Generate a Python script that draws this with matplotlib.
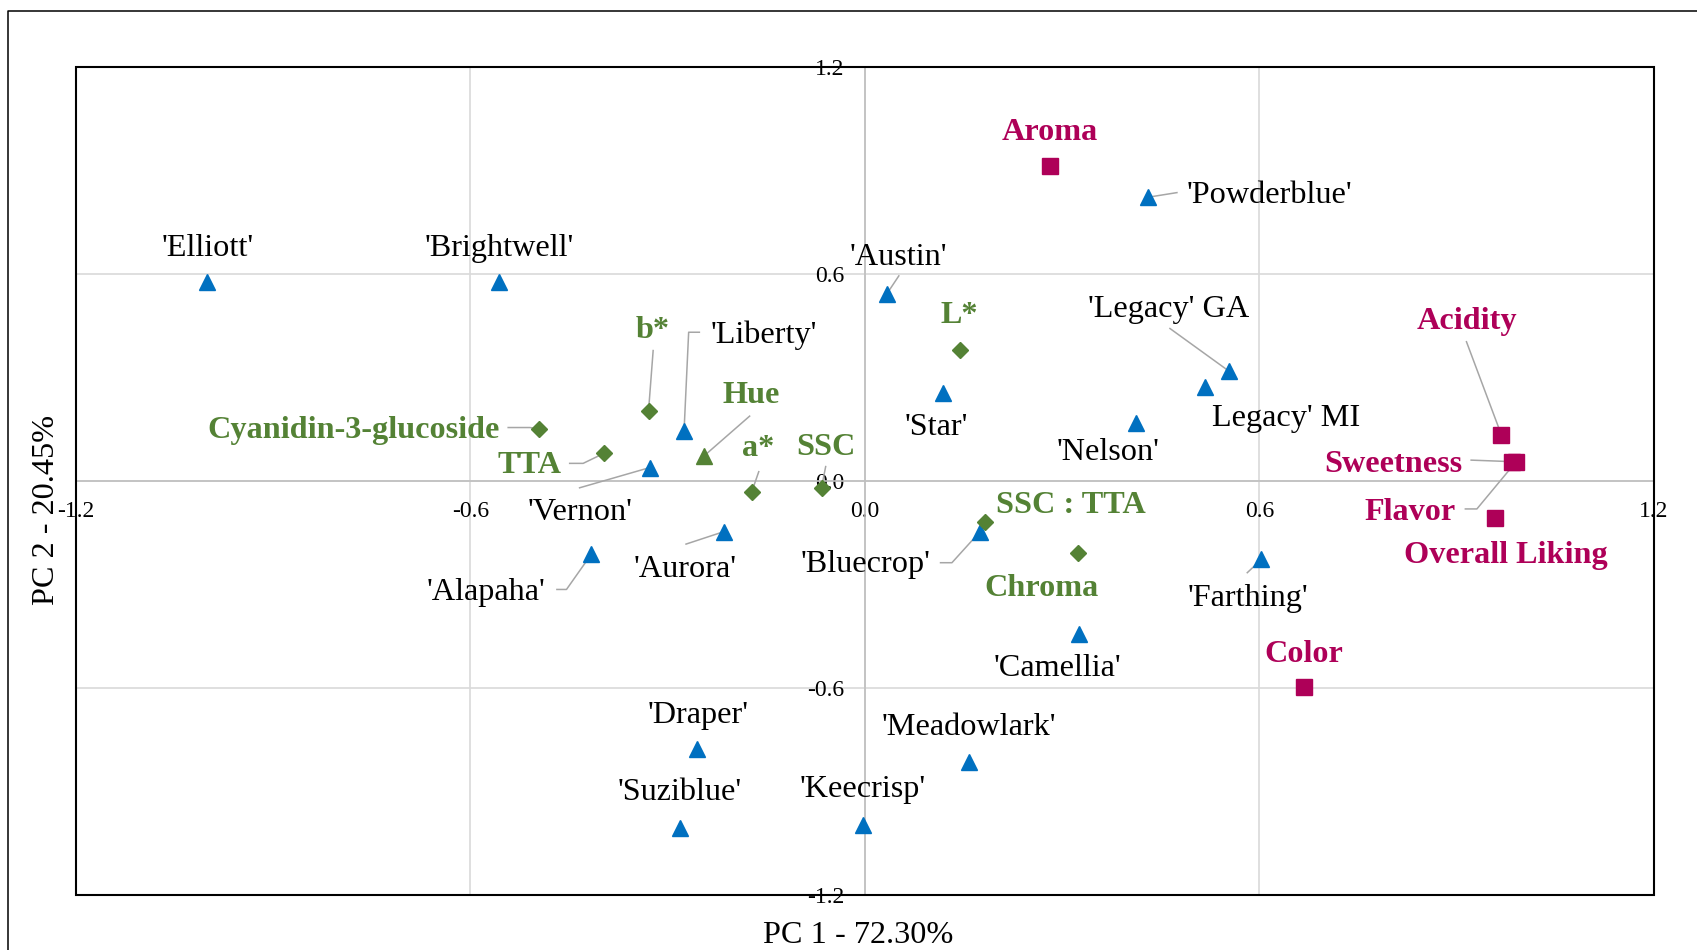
import matplotlib
matplotlib.use('Agg')
import matplotlib.pyplot as plt
from matplotlib.transforms import ScaledTranslation
from matplotlib.lines import Line2D
from matplotlib.patches import Rectangle
from matplotlib.ticker import FormatStrFormatter

plt.rcParams['font.family'] = ['Liberation Serif', 'DejaVu Serif']
plt.rcParams['axes.unicode_minus'] = False

# ---------------- data ----------------
cultivars = ["'Elliott'", "'Brightwell'", "'Austin'", "'Powderblue'", "'Liberty'",
             "'Vernon'", "'Aurora'", "'Alapaha'", "'Bluecrop'", "'Star'", "'Nelson'",
             "'Legacy' GA", "Legacy' MI", "'Farthing'", "'Camellia'", "'Draper'",
             "'Meadowlark'", "'Suziblue'", "'Keecrisp'"]
cult_pc1 = [-1.001, -0.557, 0.033, 0.431, -0.275, -0.327, -0.215, -0.416, 0.175, 0.119,
            0.413, 0.553, 0.517, 0.603, 0.326, -0.256, 0.158, -0.281, -0.003]
cult_pc2 = [0.577, 0.577, 0.541, 0.822, 0.146, 0.039, -0.147, -0.212, -0.147, 0.254,
            0.167, 0.319, 0.273, -0.227, -0.444, -0.776, -0.813, -1.004, -0.996]

physchem = ["L*", "b*", "Hue", "TTA", "a*", "SSC", "SSC : TTA", "Chroma",
            "Cyanidin-3-glucoside"]
phys_pc1 = [0.144, -0.329, -0.245, -0.397, -0.172, -0.066, 0.183, 0.324, -0.496]
phys_pc2 = [0.379, 0.204, 0.072, 0.080, -0.031, -0.019, -0.118, -0.209, 0.150]

sensory = ["Aroma", "Acidity", "Sweetness", "Flavor", "Overall Liking", "Color"]
sens_pc1 = [0.281, 0.968, 0.984, 0.990, 0.958, 0.667]
sens_pc2 = [0.913, 0.133, 0.056, 0.055, -0.108, -0.597]

axis_ticks = [-1.2, -0.6, 0.0, 0.6, 1.2]
x_label = "PC 1 - 72.30%"
y_label = "PC 2 - 20.45%"

# ---------------- layout (label offsets in points: dx, dy, ha) ----------------
LABEL_POS = {
    "'Elliott'": (0.7, 18.5, 'center'), "'Brightwell'": (0.2, 18.5, 'center'),
    "'Austin'": (8.8, 21.1, 'center'), "'Powderblue'": (27.4, -4.1, 'left'),
    "'Liberty'": (18.8, 62.9, 'left'), "'Vernon'": (-50.6, -37.7, 'center'),
    "'Aurora'": (-27.6, -32.4, 'center'), "'Alapaha'": (-33.1, -33.1, 'right'),
    "'Bluecrop'": (-35.3, -28.8, 'right'), "'Star'": (-5.0, -30.0, 'center'),
    "'Nelson'": (-20.7, -26.4, 'center'), "'Legacy' GA": (-43.4, 38.7, 'center'),
    "Legacy' MI": (58.2, -28.3, 'center'), "'Farthing'": (-9.9, -33.6, 'center'),
    "'Camellia'": (-15.7, -30.0, 'center'), "'Draper'": (1.0, 18.9, 'center'),
    "'Meadowlark'": (0.0, 19.2, 'center'), "'Suziblue'": (0.0, 19.9, 'center'),
    "'Keecrisp'": (0.0, 20.2, 'center'),
    "L*": (0.0, 19.2, 'center'), "b*": (2.8, 52.1, 'center'), "Hue": (34.1, 37.9, 'center'),
    "TTA": (-30.6, -14.4, 'right'), "a*": (4.5, 25.7, 'center'), "SSC": (3.0, 23.5, 'center'),
    "SSC : TTA": (8.0, 6.5, 'left'), "Chroma": (-26.0, -30.7, 'center'),
    "Cyanidin-3-glucoside": (-28.4, -6.5, 'right'),
    "Aroma": (0.0, 18.5, 'center'), "Acidity": (-25.1, 76.3, 'center'),
    "Sweetness": (-35.4, -7.3, 'right'), "Flavor": (-43.2, -41.8, 'right'),
    "Overall Liking": (8.1, -32.4, 'center'), "Color": (0.0, 18.4, 'center'),
}
LEADERS = {
    "'Austin'": [(8.8, 13.2)],
    "'Powderblue'": [(20.6, 3.3)],
    "'Legacy' GA": [(-42.2, 30.5)],
    "Acidity": [(-25.2, 67.2)],
    "Sweetness": [(-29.4, 1.1)],
    "Flavor": [(-36.4, -33.8), (-28.1, -33.8)],
    "'Farthing'": [(-10.2, -9.6)],
    "'Bluecrop'": [(-28.4, -22.3), (-20.2, -22.3)],
    "'Aurora'": [(-27.0, -8.9)],
    "'Alapaha'": [(-24.8, -25.4), (-17.9, -25.4)],
    "'Vernon'": [(-50.6, -14.6)],
    "TTA": [(-24.6, -7.2), (-14.9, -7.2)],
    "Cyanidin-3-glucoside": [(-22.0, 1.2), (-6.3, 1.2)],
    "b*": [(3.3, 43.2)],
    "'Liberty'": [(11.0, 70.8), (3.3, 70.8)],
    "Hue": [(33.0, 28.8)],
    "a*": [(5.0, 14.4)],
    "SSC": [(3.0, 15.1)],
}

BLUE = '#0070C0'
GREEN = '#548235'
MAGENTA = '#AE0058'
LEADER = '#a6a6a6'
FS = 23.2

fig = plt.figure(figsize=(16.97, 9.5), dpi=100)
ax = fig.add_axes([0.04467, 0.0576, 0.93, 0.8722])
ax.set_xlim(axis_ticks[0], axis_ticks[-1])
ax.set_ylim(axis_ticks[0], axis_ticks[-1])
ax.set_xticks(axis_ticks)
ax.set_yticks(axis_ticks)
ax.xaxis.set_major_formatter(FormatStrFormatter('%.1f'))
ax.yaxis.set_major_formatter(FormatStrFormatter('%.1f'))
ax.grid(True, color='#d9d9d9', lw=1.2, zorder=0)
ax.set_axisbelow(True)
for s in ['top', 'right']:
    ax.spines[s].set_visible(False)
for s in ['bottom', 'left']:
    ax.spines[s].set_position(('data', 0))
    ax.spines[s].set_color('#bfbfbf')
    ax.spines[s].set_linewidth(1.2)
    ax.spines[s].set_zorder(1)
ax.tick_params(axis='x', length=0, pad=14.5, labelsize=17)
ax.tick_params(axis='y', length=0, pad=15, labelsize=17)
ax.add_patch(Rectangle((0, 0), 1, 1, transform=ax.transAxes, fill=False,
                       ec='black', lw=1.5, zorder=6, clip_on=False))

ax.set_xlabel(x_label, fontsize=FS)
ax.xaxis.set_label_coords(0.4956, -0.0576)
ax.xaxis.label.set_va('baseline')
ax.set_ylabel(y_label, fontsize=FS)
ax.yaxis.set_label_coords(-0.0186, 0.465)
ax.yaxis.label.set_rotation_mode('default')
ax.yaxis.label.set_va('center')
ax.yaxis.label.set_ha('center')

# outer frame (partially visible)
fig.add_artist(Line2D([0.00495, 0.00495, 1.0], [0.0, 0.9884, 0.9884],
                      transform=fig.transFigure, color='black', lw=1.1))


def place(name, x, y, color, weight):
    dx, dy, ha = LABEL_POS[name]
    ax.annotate(name, xy=(x, y), xytext=(dx, dy), textcoords='offset points',
                ha=ha, va='baseline', fontsize=FS, color=color,
                fontweight=weight, zorder=5)
    if name in LEADERS:
        pts = LEADERS[name] + [(0.0, 0.0)]
        xs = [p[0] / 72 for p in pts]
        ys = [p[1] / 72 for p in pts]
        tr = fig.dpi_scale_trans + ScaledTranslation(x, y, ax.transData)
        ax.add_line(Line2D(xs, ys, transform=tr, color=LEADER, lw=1.1, zorder=2))


ax.plot(cult_pc1, cult_pc2, ls='none', marker='^', ms=11.5, color=BLUE,
        mew=1, mec=BLUE, zorder=3, solid_joinstyle='round')
for n, x, y in zip(cultivars, cult_pc1, cult_pc2):
    place(n, x, y, 'black', 'normal')

phys_markers = ['^' if n == 'Hue' else 'D' for n in physchem]
for n, x, y, m in zip(physchem, phys_pc1, phys_pc2, phys_markers):
    ax.plot([x], [y], ls='none', marker=m, ms=11.5 if m == '^' else 8, color=GREEN,
            mec=GREEN, mew=1, zorder=3)
    place(n, x, y, GREEN, 'bold')

ax.plot(sens_pc1, sens_pc2, ls='none', marker='s', ms=11, color=MAGENTA,
        mec=MAGENTA, mew=1, zorder=3)
for n, x, y in zip(sensory, sens_pc1, sens_pc2):
    place(n, x, y, MAGENTA, 'bold')

ax.set_xlim(axis_ticks[0], axis_ticks[-1])
ax.set_ylim(axis_ticks[0], axis_ticks[-1])

fig.savefig('out.png', dpi=100)
